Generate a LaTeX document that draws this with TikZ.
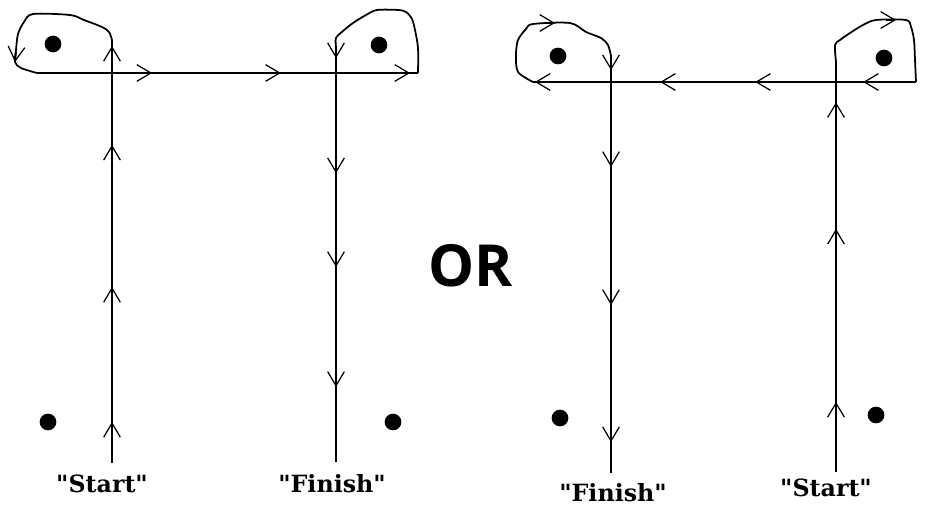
\documentclass[tikz,border=0pt]{standalone}
\usepackage{fontspec}
\newfontfamily\labelfont{DejaVu Serif}[Ligatures=TeXOff]
\newfontfamily\orfont{Open Sans}
\usetikzlibrary{arrows.meta,decorations.markings}
\tikzset{
  route/.style={line width=1pt,line join=round},
  barb/.tip={Straight Barb[length=8pt,width=9.5pt,line width=0.7pt]},
  tip at/.style={postaction={decorate,decoration={markings,mark=at position #1 with {\arrow{barb}}}}},
  dot/.style={circle,fill,inner sep=0pt,minimum size=9.5pt},
  place/.style={font=\labelfont\bfseries\fontsize{13.5}{15}\selectfont,inner sep=0pt},
}
\begin{document}
\begin{tikzpicture}[x=0.02cm,y=-0.02cm]
\useasboundingbox (0,0) rectangle (926,506);
% left: start on the left, finish on the right
\coordinate (sA) at (112,463); \coordinate (jA) at (112,40);
\coordinate (hA) at (37,73); \coordinate (hB) at (418,73);
\coordinate (jB) at (336,47); \coordinate (fB) at (336,462);
\draw[route,tip at=.097,tip at=.416,tip at=.752,tip at=.986] (sA) -- (jA);
\draw[route] plot[smooth,tension=.5] coordinates {(112,40) (109,32) (102,27) (84,20) (70,15) (33,14) (24,22) (18,34) (16,50) (15,62) (21,68) (37,73)};
\draw[route,-{barb}] (16,52) -- (15,62);
\draw[route,tip at=.302,tip at=.640,tip at=.979] (hA) -- (hB);
\draw[route] plot[smooth,tension=.5] coordinates {(418,73) (418,48) (415,30) (412,19) (406,12) (398,10) (377,10) (366,15) (353,23) (343,31) (336,38) (336,47)};
\draw[route,tip at=.027,tip at=.304,tip at=.530,tip at=.819] (jB) -- (fB);
\node[dot] (dotA1) at (53,44) {}; \node[dot] (dotA2) at (379,45) {};
\node[dot] (dotA3) at (48,422) {}; \node[dot] (dotA4) at (393,422) {};
\node[place] (startA) at (102,484) {"Start"};
\node[place] (finishA) at (332,484) {"Finish"};
% middle
\node[font=\orfont\bfseries\fontsize{33}{36}\selectfont,inner sep=0pt] (or) at (471,266) {OR};
% right: start on the right, finish on the left
\coordinate (sC) at (836,472); \coordinate (jC) at (836,62);
\coordinate (hC) at (916,82); \coordinate (hD) at (533,82);
\coordinate (jD) at (611,56); \coordinate (fD) at (611,473);
\draw[route,tip at=.171,tip at=.593,tip at=.902] (sC) -- (jC);
\draw[route] plot[smooth,tension=.5] coordinates {(836,62) (835,45) (840,40) (850,33) (863,25) (876,20) (906,20) (911,27) (914,40) (915,60) (916,82)};
\draw[route,-{barb}] (886,20) -- (896,20);
\draw[route,tip at=.138,tip at=.420,tip at=.668,tip at=.995] (hC) -- (hD);
\draw[route] plot[smooth,tension=.5] coordinates {(533,82) (518,72) (516,55) (518,40) (526,29) (533,24) (570,23) (586,32) (601,38) (608,45) (611,56)};
\draw[route,-{barb}] (545,23) -- (555,23);
\draw[route,tip at=.034,tip at=.266,tip at=.597,tip at=.926] (jD) -- (fD);
\node[dot] (dotC1) at (558,56) {}; \node[dot] (dotC2) at (884,58) {};
\node[dot] (dotC3) at (560,418) {}; \node[dot] (dotC4) at (876,415) {};
\node[place] (finishC) at (613,493) {"Finish"};
\node[place] (startC) at (826,488) {"Start"};
\end{tikzpicture}
\end{document}
